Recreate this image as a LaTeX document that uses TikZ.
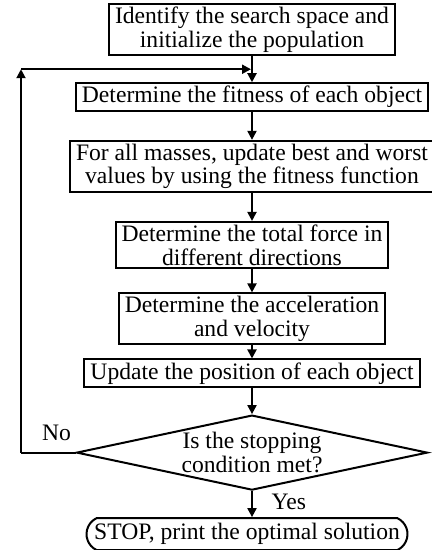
\documentclass[tikz,border=0pt]{standalone}
\usepackage{fontspec}
\setmainfont{Liberation Serif}
\usetikzlibrary{arrows.meta,positioning,shapes.geometric,shapes.misc}
\tikzset{
    %Define standard arrow tip
    >={Triangle[length=4.5pt,width=4.5pt]},
    %Define style for boxes
    process/.style={
           rectangle,
           draw=black, line width=1pt,
           inner xsep=3pt,
           inner ysep=1.5pt,
           minimum height=13.5pt,
           font=\fontsize{11.8}{11.8}\selectfont,
           align=center},
    decision/.style={
           diamond,
           aspect=4.68,
           draw=black, line width=1pt,
           inner sep=0pt,
           minimum width=175.5pt,
           minimum height=37.5pt,
           font=\fontsize{11.8}{11.8}\selectfont,
           align=center},
    terminal/.style={
           rounded rectangle,
           rounded rectangle arc length=130,
           draw=black, line width=1pt,
           inner xsep=2pt,
           inner ysep=1.5pt,
           minimum width=160pt,
           minimum height=16pt,
           font=\fontsize{11.8}{11.8}\selectfont},
    tag/.style={
           font=\fontsize{11.8}{11.8}\selectfont},
    % Define arrow style
    pil/.style={
           ->,
           line width=1pt,
           shorten >=0.5pt}
}
\begin{document}
\begin{tikzpicture}[->,node distance=13.5pt,line width=1pt]
\useasboundingbox (0,0) rectangle (216pt,-275pt);
 %nodes
\node[process, anchor=north] (init) at (126pt,-1.5pt) {Identify the search space and\\initialize the population};
\node[process, below=13pt of init] (fitness) {Determine the fitness of each object};
\node[process, below=14pt of fitness] (update) {For all masses, update best and worst\\values by using the fitness function};
\node[process, below=14pt of update] (force) {Determine the total force in\\different directions};
\node[process, below=11.5pt of force] (accel) {Determine the acceleration\\and velocity};
\node[process, below=6.5pt of accel] (position) {Update the position of each object};
\node[decision, below=13pt of position] (check) {Is the stopping\\condition met?};
\node[terminal, below=13pt of check, xshift=-2.5pt] (stop) {STOP, print the optimal solution};
\coordinate (rail) at (10.5pt,0);

 %arrows
\draw (init) -- coordinate[midway] (merge) (fitness);
\path[every node/.style={tag}]
    (fitness) edge node {} (update)
    (update) edge node {} (force)
    (force) edge node {} (accel)
    (accel) edge node {} (position)
    (position) edge node {} (check)
    (check.south) edge node[right=6pt, pos=0.4] {Yes} (check.south |- stop.north);

 %loop back
\draw[-] (check.west) -- node[tag, above=2pt, pos=0.35] {No} (check.west -| rail);
\draw (check.west -| rail) -- (merge -| rail);
\draw[pil] (merge -| rail) -- (merge);
\end{tikzpicture}
\end{document}
